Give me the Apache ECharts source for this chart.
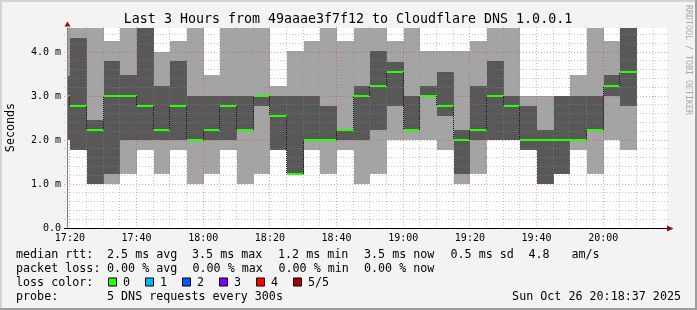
<!DOCTYPE html>
<html><head><meta charset="utf-8">
<script src="https://cdn.jsdelivr.net/npm/echarts@6/dist/echarts.min.js"></script>
<style>html,body{margin:0;padding:0;background:#f3f3f3;}#c{width:697px;height:310px;}</style>
</head><body><div id="c"></div>
<script>
// ---- data ----
const bucketStart = ["17:15","17:20","17:25","17:30","17:35","17:40","17:45","17:50","17:55",
  "18:00","18:05","18:10","18:15","18:20","18:25","18:30","18:35","18:40","18:45","18:50","18:55",
  "19:00","19:05","19:10","19:15","19:20","19:25","19:30","19:35","19:40","19:45","19:50","19:55",
  "20:00","20:05"];
const ping1  = [2.0,1.77,1.0,1.0,1.23,1.77,1.23,1.77,1.0,1.23,1.77,1.0,1.23,1.77,1.23,1.77,1.23,1.77,1.0,1.23,2.0,2.0,2.0,1.77,1.0,1.23,2.0,2.0,1.77,1.0,1.23,1.77,1.23,2.0,1.77];
const ping2  = [2.0,1.77,1.0,1.23,2.0,2.0,2.0,2.0,2.0,2.0,2.0,2.23,2.77,1.77,1.23,2.0,2.0,2.0,2.0,2.23,2.77,2.23,3.0,2.55,1.23,2.0,2.0,2.0,1.77,1.0,1.23,2.0,2.23,3.0,2.77];
const median = [3.0,2.77,2.24,3.0,3.0,2.77,2.24,2.77,2.0,2.24,2.77,2.24,3.0,2.55,1.23,2.0,2.0,2.23,3.0,3.23,3.55,2.23,3.0,2.77,2.0,2.23,3.0,2.77,2.0,2.0,2.0,2.0,2.23,3.23,3.55];
const ping4  = [3.45,4.32,2.45,3.8,3.48,4.55,3.23,3.8,3.0,3.0,3.0,3.0,3.0,3.0,3.0,3.0,2.77,2.23,3.23,4.02,3.77,3.0,3.23,3.55,2.23,3.23,3.8,3.0,2.77,2.23,3.0,3.0,3.0,3.48,4.55];
const ping5  = [4.55,4.55,4.55,4.26,4.55,4.55,4.0,4.26,4.55,3.48,4.55,4.55,4.55,3.23,4.02,4.25,4.55,4.25,4.55,4.55,4.25,4.55,4.02,4.02,4.02,4.25,4.55,4.55,3.0,3.0,3.0,3.48,4.55,4.25,4.55];
const stepMinutes = 5;
const viewStart = "17:19:08", viewEnd = "20:19:08";
const xTickLabels = ["17:20","17:40","18:00","18:20","18:40","19:00","19:20","19:40","20:00"];
const yTickValues = [0,1,2,3,4];
const yTickLabels = ["0.0","1.0 m","2.0 m","3.0 m","4.0 m"];
const yMaxValue = 4.55;
const titleText = "Last 3 Hours from 49aaae3f7f12 to Cloudflare DNS 1.0.0.1";
const rttLabels  = ["median rtt:","2.5 ms avg","3.5 ms max","1.2 ms min","3.5 ms now","0.5 ms sd","4.8","am/s"];
const lossLabels = ["packet loss:","0.00 % avg","0.00 % max","0.00 % min","0.00 % now"];
const lossColorNames = ["0","1","2","3","4","5/5"];
const lossColors = ["#26ff00","#00b8ff","#0059ff","#7e00ff","#ff0000","#a10000"];
const probeLabels = ["probe:","5 DNS requests every 300s"];
const dateText = "Sun Oct 26 20:18:37 2025";

// ---- helpers ----
const toMin = s => { const p = s.split(':').map(Number); return p[0]*60 + p[1] + (p[2]||0)/60; };
const xMin = toMin(viewStart), xMax = toMin(viewEnd);
const xTickValues = xTickLabels.map(toMin);
const FONT = '"DejaVu Sans Mono", monospace';

const smokeData = bucketStart.map((s,i) => {
  const a = toMin(s);
  return [a, a + stepMinutes, ping1[i], ping2[i], median[i], ping4[i], ping5[i], i > 0 ? median[i-1] : median[i]];
});
const vGrid = [];
for (let t = xTickValues[0]; t <= xMax; t += stepMinutes) {
  const major = xTickValues.some(v => Math.abs(v - t) < 1e-6) ? 1 : 0;
  vGrid.push([t, major]);
}
const hGrid = [];
for (let k = 1; k * 0.2 < yMaxValue; k++) {
  const v = +(k * 0.2).toFixed(2);
  hGrid.push([v, Math.abs(v - Math.round(v)) < 1e-6 ? 1 : 0]);
}

function colPix(api, a, b) {
  const ca = api.coord([Math.max(a, xMin), 0])[0];
  const cb = api.coord([Math.min(b, xMax), 0])[0];
  const xa = a <= xMin ? Math.round(ca) : Math.floor(ca) + 1;
  const xb = b >= xMax ? Math.round(cb) : Math.floor(cb) + 1;
  return [xa, xb];
}
function renderSmoke(params, api) {
  const a = api.value(0), b = api.value(1);
  if (b <= xMin || a >= xMax) return;
  const [xa, xb] = colPix(api, a, b);
  const Y = v => Math.round(api.coord([xMin, v])[1]);
  const p1 = Y(api.value(2)), p2 = Y(api.value(3)), p4 = Y(api.value(5)), p5 = Y(api.value(6));
  return {type:'group', children:[
    {type:'rect', shape:{x:xa, y:p5, width:xb-xa, height:p1-p5}, style:{fill:'#a4a4a4'}},
    {type:'rect', shape:{x:xa, y:p4, width:xb-xa, height:p2-p4}, style:{fill:'#585858'}}
  ]};
}
function renderMedian(params, api) {
  const a = api.value(0), b = api.value(1);
  if (b <= xMin || a >= xMax) return;
  const [xa, xb] = colPix(api, a, b);
  const Y = v => Math.round(api.coord([xMin, v])[1]);
  const ym = Y(api.value(4)), yp = Y(api.value(7));
  const ch = [];
  if (params.dataIndex > 0 && yp !== ym) {
    ch.push({type:'line', shape:{x1:xa-0.5, y1:yp, x2:xa-0.5, y2:ym}, style:{stroke:'#111', lineWidth:1, lineDash:[1,1]}});
  }
  ch.push({type:'line', shape:{x1:xa, y1:ym, x2:xb, y2:ym}, style:{stroke:'#26ff00', lineWidth:2}});
  return {type:'group', children: ch};
}
function renderVGrid(params, api) {
  const v = api.value(0), major = api.value(1);
  const t = api.coord([v, yMaxValue]), bo = api.coord([v, 0]);
  const x = Math.floor(t[0]) + 0.5;
  return {type:'line', shape:{x1:x, y1:t[1]-1, x2:x, y2:bo[1]+3},
    style:{stroke: major ? 'rgba(230,40,40,0.45)' : 'rgba(140,140,140,0.5)', lineWidth:1, lineDash:[1,2]}};
}
function renderHGrid(params, api) {
  const v = api.value(0), major = api.value(1);
  const l = api.coord([xMin, v]), r = api.coord([xMax, v]);
  const y = Math.floor(l[1]) + 0.5;
  return {type:'line', shape:{x1:l[0]-3, y1:y, x2:r[0]+2, y2:y},
    style:{stroke: major ? 'rgba(230,40,40,0.45)' : 'rgba(140,140,140,0.5)', lineWidth:1, lineDash:[1,2]}};
}

const chart = echarts.init(document.getElementById('c'), null, {renderer:'canvas'});
chart.setOption({
  backgroundColor: '#f3f3f3',
  animation: false,
  grid: {left:67, top:28, width:600, height:200, show:true, backgroundColor:'#ffffff', borderWidth:0},
  xAxis: {
    type:'value', min:xMin, max:xMax, z:10,
    axisLine:{show:true, lineStyle:{color:'#000', width:1}},
    axisTick:{show:false},
    splitLine:{show:false},
    axisLabel:{customValues: xTickValues, margin:5, fontFamily:FONT, fontSize:10, color:'#000',
      formatter: v => { const i = xTickValues.findIndex(t => Math.abs(t - v) < 1e-6); return i >= 0 ? xTickLabels[i] : ''; }}
  },
  yAxis: {
    type:'value', min:0, max:yMaxValue, z:10,
    axisLine:{show:true, lineStyle:{color:'#808080', width:1}},
    axisTick:{show:false},
    splitLine:{show:false},
    axisLabel:{customValues: yTickValues, margin:6, fontFamily:FONT, fontSize:10, color:'#000',
      formatter: v => { const i = yTickValues.findIndex(t => Math.abs(t - v) < 1e-6); return i >= 0 ? yTickLabels[i] : ''; }}
  },
  series: [
    {type:'custom', name:'smoke', renderItem: renderSmoke, data: smokeData, encode:{x:[0,1], y:[2,3,4,5,6]}, z:2, silent:true},
    {type:'custom', name:'vgrid', renderItem: renderVGrid, data: vGrid, encode:{x:0}, z:3, silent:true},
    {type:'custom', name:'hgrid', renderItem: renderHGrid, data: hGrid, encode:{y:0}, z:3, silent:true},
    {type:'custom', name:'median', renderItem: renderMedian, data: smokeData, encode:{x:[0,1], y:4}, z:4, silent:true}
  ]
});

// ---- decorations positioned from the axes ----
const pTopLeft = chart.convertToPixel({gridIndex:0}, [xMin, yMaxValue]);
const pBotRight = chart.convertToPixel({gridIndex:0}, [xMax, 0]);
const axX = Math.round(pTopLeft[0]) + 0.5, plotTop = pTopLeft[1];
const axY = Math.round(pBotRight[1]) + 0.5, plotRight = pBotRight[0];
const W = 697, H = 310;
const ARROW = '#8a1010';
const txt = (text, x, y, size, extra) => Object.assign({type:'text', x, y, silent:true,
  style: Object.assign({text, font: size + 'px ' + FONT, fill:'#000', textAlign:'left', textVerticalAlign:'middle', align:'left', verticalAlign:'middle'}, extra && extra.style)}, extra && extra.el);

const rowY = [254.5, 268.5, 282.5, 296.5];
const rttX = [16, 107, 192, 278, 364, 450.5, 528.5, 571.5];
const lossX = [16, 107, 192.5, 278.5, 364];
const boxX = [108.5, 145.5, 182.5, 219.5, 256.5, 293.5];
const g = [];
g.push({type:'rect', shape:{x:0, y:0, width:W, height:2}, style:{fill:'#d4d4d4'}, silent:true});
g.push({type:'rect', shape:{x:0, y:0, width:2, height:H}, style:{fill:'#d4d4d4'}, silent:true});
g.push({type:'rect', shape:{x:W-2, y:0, width:2, height:H}, style:{fill:'#9e9e9e'}, silent:true});
g.push({type:'rect', shape:{x:0, y:H-2, width:W, height:2}, style:{fill:'#9e9e9e'}, silent:true});
g.push({type:'polygon', shape:{points:[[axX-3, plotTop-1.5],[axX+3, plotTop-1.5],[axX, plotTop-6.5]]}, style:{fill:ARROW}, z:20, silent:true});
g.push({type:'line', shape:{x1:axX-3.5, y1:axY, x2:axX, y2:axY}, style:{stroke:'#000', lineWidth:1}, z:20, silent:true});
g.push({type:'polygon', shape:{points:[[plotRight, axY-3],[plotRight, axY+3],[plotRight+6.5, axY]]}, style:{fill:ARROW}, z:20, silent:true});
g.push(txt(titleText, 348, 19.5, 13.3, {style:{textAlign:'center', align:'center'}}));
g.push(txt('Seconds', 10.8, 127.5, 11.7, {style:{textAlign:'center', align:'center'}, el:{rotation: Math.PI/2}}));
g.push(txt('RRDTOOL / TOBI OETIKER', 688, 60, 8.3, {style:{textAlign:'center', align:'center', fill:'#a8a8a8'}, el:{rotation: -Math.PI/2}}));
rttLabels.forEach((s,i) => g.push(txt(s, rttX[i], rowY[0], 11.7)));
lossLabels.forEach((s,i) => g.push(txt(s, lossX[i], rowY[1], 11.7)));
g.push(txt('loss color:', 16, rowY[2], 11.7));
lossColorNames.forEach((s,i) => {
  g.push({type:'rect', shape:{x:boxX[i], y:rowY[2]-4.5, width:8, height:8}, style:{fill:lossColors[i], stroke:'#000', lineWidth:1}, silent:true});
  g.push(txt(s, boxX[i] + 14.5, rowY[2], 11.7));
});
g.push(txt(probeLabels[0], 16, rowY[3], 11.7));
g.push(txt(probeLabels[1], 107, rowY[3], 11.7));
g.push(txt(dateText, 681, rowY[3], 11.7, {style:{textAlign:'right', align:'right'}}));
chart.setOption({graphic: g});
</script></body></html>
